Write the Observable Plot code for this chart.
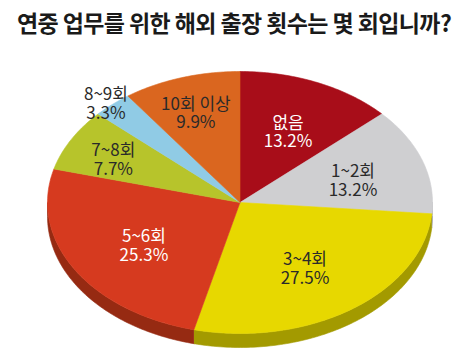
<!DOCTYPE html>
<html><head><meta charset="utf-8">
<script src="https://cdn.jsdelivr.net/npm/d3@7"></script>
<script src="https://cdn.jsdelivr.net/npm/@observablehq/plot@0.6"></script>
<style>
body{margin:0;background:#fff;width:468px;height:361px;overflow:hidden;font-family:"Noto Sans CJK KR",sans-serif}
#title{height:44px;line-height:44px;text-align:center;font-size:23px;font-weight:700;color:#1a1a1a;letter-spacing:-0.6px;white-space:nowrap}
#chart svg{display:block}
</style></head><body>
<div id="title">연중 업무를 위한 해외 출장 횟수는 몇 회입니까?</div>
<div id="chart"></div>
<script>
const categories = ["없음", "1~2회", "3~4회", "5~6회", "7~8회", "8~9회", "10회 이상"];
const values = [13.2, 13.2, 27.5, 25.3, 7.7, 3.3, 9.9];

const topColors = ["#a80d19", "#cfcfd1", "#e7d800", "#d63a1f", "#b7c42b", "#90cbe5", "#da661f"];
const wallColors = ["#7c0a12", "#9d9da0", "#a39a00", "#962a12", "#7f8a1c", "#6494a8", "#9a4816"];
const labelColors = ["#ffffff", "#2a2a2a", "#2a2a2a", "#ffffff", "#2a2a2a", "#2a2a2a", "#2a2a2a"];

const W = 468, H = 317;
const DEPTH = 14 / 131; // wall thickness in y units
const total = d3.sum(values);

let acc = 0;
const slices = categories.map((c, i) => {
  const a0 = acc / total * 2 * Math.PI;
  acc += values[i];
  const a1 = acc / total * 2 * Math.PI;
  return {key: c, i, value: values[i], a0, a1};
});

function arcPts(a0, a1) {
  const n = Math.max(2, Math.ceil((a1 - a0) / (Math.PI / 180)));
  return d3.range(n + 1).map(k => {
    const a = a0 + (a1 - a0) * k / n;
    return [Math.sin(a), Math.cos(a)];
  });
}

const wallRows = [];
const topRows = [];
for (const s of slices) {
  const w0 = Math.max(s.a0, Math.PI / 2), w1 = Math.min(s.a1, 3 * Math.PI / 2);
  if (w1 > w0) {
    const arc = arcPts(w0, w1);
    const pts = arc.concat(arc.slice().reverse().map(([x, y]) => [x, y - DEPTH]));
    pts.forEach(([x, y]) => wallRows.push({key: s.key, x, y, fill: wallColors[s.i]}));
  }
  const pts = [[0, 0]].concat(arcPts(s.a0, s.a1), [[0, 0]]);
  pts.forEach(([x, y]) => topRows.push({key: s.key, x, y, fill: topColors[s.i]}));
}

const labels = slices.map(s => {
  const share = s.value / total;
  const r = share < 0.05 ? 1.05 : share < 0.1 ? 0.75 : share > 0.2 ? 0.58 : 0.62;
  const m = (s.a0 + s.a1) / 2;
  return {x: r * Math.sin(m), y: r * Math.cos(m),
          text: `${s.key}\n${s.value.toFixed(1)}%`, fill: labelColors[s.i]};
});

const chart = Plot.plot({
  width: W, height: H,
  marginLeft: 47, marginRight: 36, marginTop: 27, marginBottom: 28,
  x: {domain: [-1, 1], axis: null},
  y: {domain: [-1, 1], axis: null},
  color: {type: "identity"},
  style: {background: "#fff", fontFamily: "'Noto Sans CJK KR', sans-serif"},
  marks: [
    Plot.line(wallRows, {x: "x", y: "y", z: "key", fill: "fill", stroke: "fill", strokeWidth: 0.6}),
    Plot.line(topRows, {x: "x", y: "y", z: "key", fill: "fill", stroke: "fill", strokeWidth: 0.6}),
    Plot.text(labels, {x: "x", y: "y", dy: 4, text: "text", fill: "fill", fontSize: 17, lineHeight: 1.1})
  ]
});
document.getElementById("chart").appendChild(chart);
</script>
</body></html>
